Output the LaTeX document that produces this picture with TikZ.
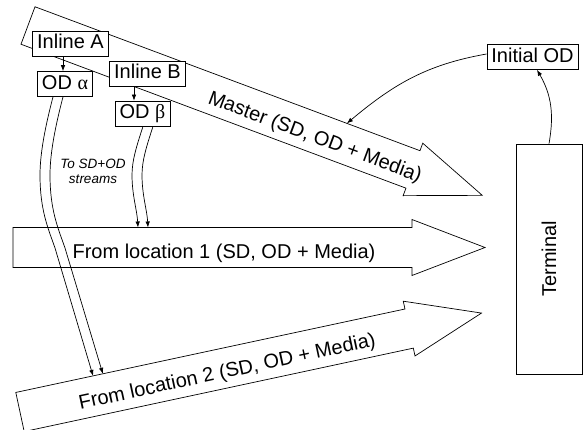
\documentclass[tikz,border=0pt]{standalone}
\usepackage{fontspec}
\usepackage{graphicx}
\setmainfont{Liberation Sans}
\newfontfamily\grkfont{Liberation Serif}
\usetikzlibrary{arrows.meta}
\begin{document}
\begin{tikzpicture}[x=1pt,y=-1pt,
  line width=0.7pt,
  bigarrow/.style={draw, fill=white, line join=miter},
  lbl/.style={font=\fontsize{20pt}{24pt}\selectfont},
  box/.style={draw, fill=white, lbl, inner xsep=4.5pt, inner ysep=4pt, text height=14pt, text depth=3pt},
  tip/.style={-{Latex[length=6pt,width=4.5pt]}},
  note/.style={font=\fontsize{13.5pt}{15pt}\selectfont\itshape, align=center}]
\useasboundingbox (0,0) rectangle (588,430);

% Master arrow
\begin{scope}[shift={(28,25.5)}, rotate=-20.5]
  \draw[bigarrow] (0,-20) -- (411,-20) -- (411,-28) -- (485,0) -- (411,28) -- (411,20) -- (0,20) -- cycle;
  \node[lbl, anchor=base, rotate=-20.5] (mtext) at (308,10) {Master (SD, OD + Media)};
  \coordinate (mtop) at (333,-20);
\end{scope}

% From location 1
\begin{scope}[shift={(13,247.5)}]
  \draw[bigarrow] (0,-20) -- (399,-20) -- (399,-28) -- (472,0) -- (399,28) -- (399,20) -- (0,20) -- cycle;
  \node[lbl, anchor=base] (l1text) at (211,10.5) {From location 1 (SD, OD + Media)};
  \coordinate (s1a) at (125,-20);
  \coordinate (s1b) at (135,-20);
\end{scope}

% From location 2
\begin{scope}[shift={(20,412)}, rotate=12.1]
  \draw[bigarrow] (0,-20) -- (398,-20) -- (398,-28) -- (472,0) -- (398,28) -- (398,20) -- (0,20) -- cycle;
  \node[lbl, anchor=base, rotate=12.1] (l2text) at (211,10) {From location 2 (SD, OD + Media)};
  \coordinate (s2a) at (79,-20);
  \coordinate (s2b) at (89,-20);
\end{scope}

% Terminal
\node[draw, lbl, minimum width=66pt, minimum height=230pt, inner sep=0pt] (term) at (549,259) {\rotatebox{90}{Terminal}};

% Boxes
\node[box] (ia) at (70.5,43.5) {Inline A};
\node[box] (ib) at (147.5,73.5) {Inline B};
\node[box] (oda) at (65,84) {OD {\grkfont α}};
\node[box] (odb) at (142.5,113.5) {OD {\grkfont β}};
\node[box] (iod) at (532.5,57) {Initial OD};

\node[note] (note) at (93,171) {To SD+OD\\streams};

% Small arrows
\draw[tip] ([xshift=-7.5pt]ia.south) -- ([xshift=-2pt]oda.north);
\draw[tip] ([xshift=-13.5pt]ib.south) -- ([xshift=-8.5pt]odb.north);

% Streams alpha
\draw[tip] ([xshift=-12pt]oda.south) .. controls (47,120) and (40,150) .. (40,175)
  .. controls (40,210) and (48,228) .. (55,248) -- (s2a);
\draw[tip] ([xshift=-2pt]oda.south) .. controls (57,120) and (50,150) .. (50,175)
  .. controls (50,210) and (58,228) .. (65,248) -- (s2b);

% Streams beta
\draw[tip] ([xshift=0.5pt]odb.south) .. controls (137,145) and (132,160) .. (132,175)
  .. controls (132,195) and (137,210) .. (s1a);
\draw[tip] ([xshift=10.5pt]odb.south) .. controls (147,145) and (142,160) .. (142,175)
  .. controls (142,195) and (147,210) .. (s1b);

% Initial OD connections
\draw[tip] ([yshift=3pt]iod.west) to[out=190,in=40] (mtop);
\draw[tip] (term.north) to[out=80,in=-60] ([xshift=4.5pt]iod.south);
\end{tikzpicture}
\end{document}
